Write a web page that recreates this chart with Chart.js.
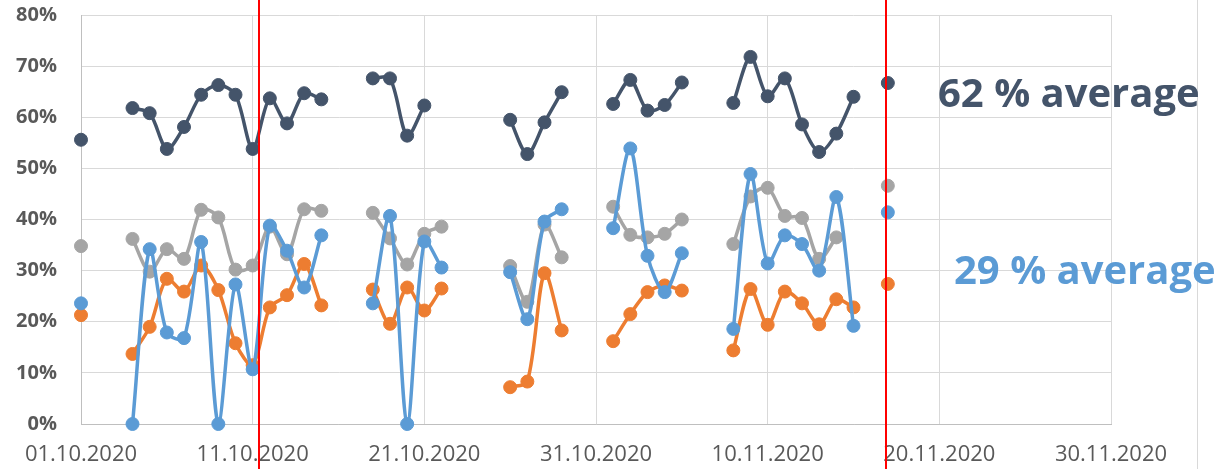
<!DOCTYPE html>
<html>
<head>
<meta charset="utf-8">
<script src="https://cdn.jsdelivr.net/npm/chart.js@4"></script>
<style>
  html, body { margin: 0; padding: 0; background: #fff; }
</style>
</head>
<body>
<canvas id="chart" width="1220" height="469"></canvas>
<script>
// day index counted from 01.10.2020 (0 = 01.10, 31 = 01.11)
const days = [];
for (let d = 0; d <= 47; d++) days.push(d);

const tickLabels = ['01.10.2020', '11.10.2020', '21.10.2020', '31.10.2020', '10.11.2020', '20.11.2020', '30.11.2020'];

// values in %, null = no measurement that day
const darkSeries = [
  55.6, null, null, 61.8, 60.8, 53.8, 58.1, 64.4, 66.3, 64.4, 53.8, 63.7, 58.8, 64.7, 63.5, null,
  null, 67.6, 67.6, 56.4, 62.3, null, null, null, null, 59.5, 52.8, 59.0, 64.9, null, null, 62.6,
  67.3, 61.3, 62.4, 66.8, null, null, 62.8, 71.8, 64.1, 67.6, 58.6, 53.2, 56.8, 64.0, null, 66.7
];
const graySeries = [
  34.8, null, null, 36.2, 29.8, 34.2, 32.3, 41.9, 40.4, 30.2, 31.0, 38.6, 33.2, 42.0, 41.7, null,
  null, 41.3, 36.3, 31.2, 37.2, 38.6, null, null, null, 30.9, 23.9, 39.0, 32.6, null, null, 42.5,
  37.0, 36.5, 37.2, 40.0, null, null, 35.2, 44.5, 46.2, 40.7, 40.3, 32.3, 36.5, null, null, 46.6
];
const blueSeries = [
  23.6, null, null, 0, 34.2, 17.9, 16.8, 35.6, 0, 27.3, 10.7, 38.8, 33.9, 26.7, 36.9, null,
  null, 23.6, 40.7, 0, 35.7, 30.6, null, null, null, 29.7, 20.5, 39.6, 42.0, null, null, 38.3,
  53.9, 32.9, 25.8, 33.4, null, null, 18.6, 48.9, 31.4, 36.9, 35.2, 30.0, 44.4, 19.2, null, 41.4
];
const orangeSeries = [
  21.3, null, null, 13.7, 19.0, 28.4, 25.9, 31.0, 26.2, 15.8, 11.5, 22.8, 25.2, 31.3, 23.2, null,
  null, 26.3, 19.6, 26.7, 22.2, 26.5, null, null, null, 7.2, 8.3, 29.5, 18.3, null, null, 16.2,
  21.5, 25.8, 27.1, 26.1, null, null, 14.4, 26.4, 19.4, 25.9, 23.6, 19.5, 24.4, 22.8, null, 27.4
];

// red marker lines (day index)
const markerDays = [10.37, 46.9];

function pts(arr) {
  return days.map((d, i) => ({ x: d, y: arr[i] }));
}

function line(data, color) {
  return {
    data: pts(data),
    borderColor: color,
    backgroundColor: color,
    borderWidth: 3.5,
    pointRadius: 6.5,
    pointBorderWidth: 1,
    pointBackgroundColor: color,
    pointBorderColor: color,
    tension: 0.3,
    spanGaps: false,
    clip: false
  };
}

const overlay = {
  id: 'overlay',
  afterDatasetsDraw(chart) {
    const ctx = chart.ctx;
    const xs = chart.scales.x;
    ctx.save();
    // outer frame line on the right
    ctx.strokeStyle = '#D9D9D9';
    ctx.lineWidth = 1;
    ctx.beginPath();
    ctx.moveTo(1197.5, 0);
    ctx.lineTo(1197.5, chart.height);
    ctx.stroke();
    // red markers
    ctx.strokeStyle = '#FF0000';
    ctx.lineWidth = 2;
    markerDays.forEach(d => {
      const x = Math.round(xs.getPixelForValue(d));
      ctx.beginPath();
      ctx.moveTo(x, 0);
      ctx.lineTo(x, chart.height);
      ctx.stroke();
    });
    // average texts
    ctx.font = 'bold 40px "Open Sans"';
    ctx.textBaseline = 'middle';
    ctx.textAlign = 'left';
    ctx.fillStyle = '#44546A';
    ctx.fillText('62 % average', 938, 96);
    ctx.fillStyle = '#5B9BD5';
    ctx.fillText('29 % average', 954, 273);
    ctx.restore();
  }
};

new Chart(document.getElementById('chart'), {
  type: 'line',
  data: {
    datasets: [
      line(blueSeries, '#5B9BD5'),
      line(orangeSeries, '#ED7D31'),
      line(graySeries, '#A5A5A5'),
      line(darkSeries, '#44546A')
    ]
  },
  options: {
    responsive: false,
    animation: false,
    layout: { padding: { top: 15, right: 109, left: 0, bottom: 0 } },
    plugins: { legend: { display: false }, tooltip: { enabled: false } },
    scales: {
      x: {
        type: 'linear',
        min: 0,
        max: 60,
        afterFit: s => { s.height = 45; s.paddingLeft = 0; s.paddingRight = 0; },
        ticks: {
          stepSize: 10,
          padding: 18,
          color: '#595959',
          font: { family: 'Open Sans', size: 22 },
          maxRotation: 0,
          callback: v => tickLabels[v / 10]
        },
        grid: { color: '#D9D9D9', drawTicks: false },
        border: { color: '#BFBFBF' }
      },
      y: {
        min: 0,
        max: 80,
        afterFit: s => { s.width = 81; s.paddingTop = 0; s.paddingBottom = 0; },
        ticks: {
          stepSize: 10,
          padding: 24,
          color: '#595959',
          font: { family: 'Open Sans', size: 20, weight: 'bold' },
          callback: v => v + '%'
        },
        grid: { color: '#D9D9D9', drawTicks: false },
        border: { color: '#BFBFBF' }
      }
    }
  },
  plugins: [overlay]
});
</script>
</body>
</html>
